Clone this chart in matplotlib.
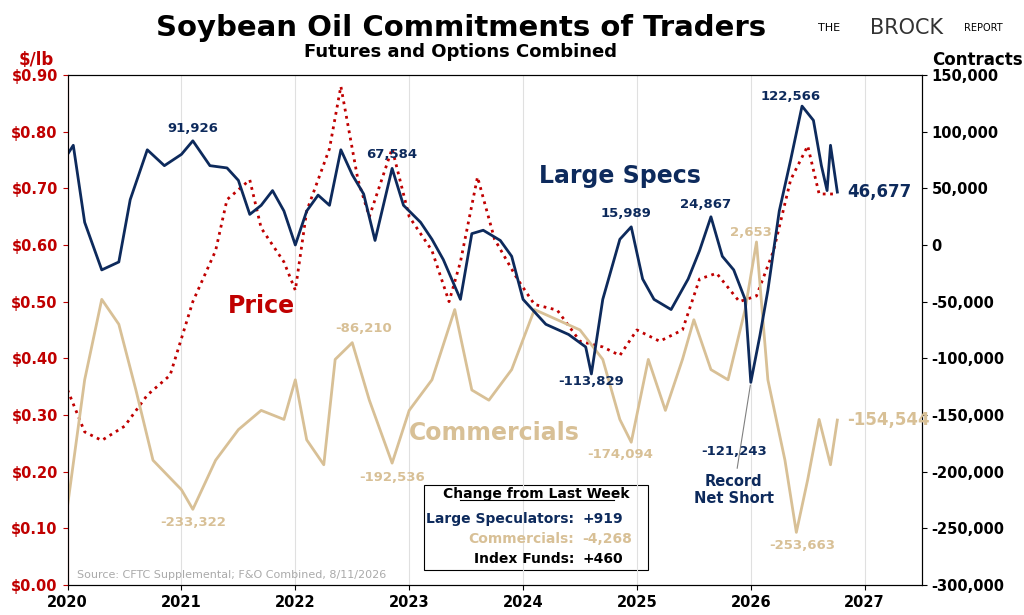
import matplotlib.pyplot as plt
from matplotlib.ticker import FuncFormatter

# weekly data, thinned out
spec_t = [2020.0, 2020.05, 2020.15, 2020.3, 2020.45, 2020.55, 2020.7, 2020.85, 2021.0, 2021.1, 2021.25, 2021.4,
          2021.5, 2021.6, 2021.7, 2021.8, 2021.9, 2022.0, 2022.1, 2022.2, 2022.3, 2022.4, 2022.5, 2022.6,
          2022.7, 2022.85, 2022.95, 2023.1, 2023.2, 2023.3, 2023.45, 2023.55, 2023.65, 2023.8, 2023.9, 2024.0,
          2024.2, 2024.4, 2024.55, 2024.6, 2024.7, 2024.85, 2024.95, 2025.05, 2025.15, 2025.3, 2025.45, 2025.55,
          2025.65, 2025.75, 2025.85, 2025.95, 2026.0, 2026.08, 2026.15, 2026.25, 2026.35, 2026.45, 2026.55,
          2026.62, 2026.67, 2026.7, 2026.76]
spec_v = [80000, 88000, 20000, -22000, -15000, 40000, 84000, 70000, 80000, 91926, 70000, 68000,
          57000, 27000, 35000, 48000, 30000, 0, 30000, 44000, 35000, 84000, 62000, 45000,
          4000, 67584, 35000, 20000, 5000, -13000, -48000, 10000, 13000, 4000, -10000, -48000,
          -70000, -79000, -90000, -113829, -48000, 5000, 15989, -30000, -48000, -57000, -30000, -5000,
          24867, -10000, -22000, -48000, -121243, -80000, -40000, 30000, 75000, 122566, 110000,
          70000, 48000, 88000, 46677]

comm_t = [2020.0, 2020.15, 2020.3, 2020.45, 2020.6, 2020.75, 2021.0, 2021.1, 2021.3, 2021.5, 2021.7, 2021.9,
          2022.0, 2022.1, 2022.25, 2022.35, 2022.5, 2022.65, 2022.85, 2023.0, 2023.2, 2023.4, 2023.55, 2023.7,
          2023.9, 2024.1, 2024.3, 2024.5, 2024.7, 2024.85, 2024.95, 2025.1, 2025.25, 2025.4, 2025.5, 2025.65,
          2025.8, 2025.95, 2026.05, 2026.15, 2026.3, 2026.4, 2026.5, 2026.6, 2026.7, 2026.76]
comm_v = [-230000, -119000, -48000, -70000, -128000, -190000, -216000, -233322, -190000, -163000, -146000, -154000,
          -119000, -172000, -194000, -101000, -86210, -137000, -192536, -146000, -119000, -57000, -128000, -137000,
          -110000, -57000, -66000, -75000, -101000, -154000, -174094, -101000, -146000, -101000, -66000, -110000,
          -119000, -57000, 2653, -119000, -190000, -253663, -207000, -154000, -194000, -154544]

price_t = [2020.0, 2020.15, 2020.3, 2020.5, 2020.7, 2020.9, 2021.1, 2021.3, 2021.4, 2021.6, 2021.7, 2021.9,
           2022.0, 2022.1, 2022.3, 2022.4, 2022.55, 2022.65, 2022.85, 2023.0, 2023.2, 2023.35, 2023.45, 2023.6,
           2023.75, 2023.95, 2024.1, 2024.3, 2024.5, 2024.7, 2024.85, 2025.0, 2025.2, 2025.4, 2025.55, 2025.7,
           2025.9, 2026.05, 2026.2, 2026.35, 2026.5, 2026.6, 2026.76]
price_v = [0.344, 0.27, 0.255, 0.28, 0.335, 0.37, 0.50, 0.59, 0.68, 0.715, 0.63, 0.57,
           0.52, 0.66, 0.77, 0.88, 0.715, 0.65, 0.77, 0.65, 0.59, 0.50, 0.57, 0.72,
           0.61, 0.54, 0.495, 0.485, 0.43, 0.42, 0.405, 0.45, 0.43, 0.45, 0.54, 0.55,
           0.50, 0.51, 0.59, 0.715, 0.775, 0.69, 0.69]

NAVY = "#0d2a5c"
TAN = "#d8c096"
RED = "#c00000"

fig = plt.figure(figsize=(10.24, 6.15), dpi=100)
ax = fig.add_axes([0.066, 0.049, 0.834, 0.829])
ax2 = ax.twinx()

# -----------------------------------------------------------------------------
# 1. Series
# -----------------------------------------------------------------------------
ax.plot(price_t, price_v, color=RED, linestyle=":", linewidth=2)  # price on left axis
ax2.plot(comm_t, comm_v, color=TAN, linewidth=2)
ax2.plot(spec_t, spec_v, color=NAVY, linewidth=2)

# -----------------------------------------------------------------------------
# 2. Axes formatting
# -----------------------------------------------------------------------------
ax.set_xlim(2020, 2027.5)
ax.set_ylim(0, 0.9)
ax.set_yticks([i / 10 for i in range(10)])
ax.yaxis.set_major_formatter(FuncFormatter(lambda v, _: f"${v:.2f}"))
ax.tick_params(axis="y", colors=RED, labelsize=10.5)
for lab in ax.get_yticklabels():
    lab.set_fontweight("bold")
ax.set_xticks(range(2020, 2028))
ax.tick_params(axis="x", labelsize=10.5)
for lab in ax.get_xticklabels():
    lab.set_fontweight("bold")
ax.grid(axis="x", color="#e0e0e0", linewidth=0.8)

ax2.set_ylim(-300000, 150000)
ax2.set_yticks(range(-300000, 150001, 50000))
ax2.yaxis.set_major_formatter(FuncFormatter(lambda v, _: f"{int(v):,}"))
ax2.tick_params(axis="y", labelsize=10.5)
for lab in ax2.get_yticklabels():
    lab.set_fontweight("bold")
ax.spines["left"].set_color(RED)

# -----------------------------------------------------------------------------
# 3. Titles and annotations
# -----------------------------------------------------------------------------
fig.text(0.45, 0.955, "Soybean Oil Commitments of Traders", ha="center", va="center",
         fontsize=21, fontweight="bold")
fig.text(0.45, 0.915, "Futures and Options Combined", ha="center", va="center",
         fontsize=13, fontweight="bold")
fig.text(0.035, 0.895, "$/lb", color=RED, ha="center", fontsize=12, fontweight="bold")
fig.text(0.955, 0.895, "Contracts", ha="center", fontsize=12, fontweight="bold")
fig.text(0.81, 0.955, "THE", fontsize=8, ha="center", va="center")
fig.text(0.885, 0.955, "BROCK", fontsize=15, ha="center", va="center", color="#333333")
fig.text(0.96, 0.955, "REPORT", fontsize=7, ha="center", va="center")

ax.text(2021.7, 0.48, "Price", color=RED, fontsize=17, fontweight="bold", ha="center")
ax2.text(2024.85, 55000, "Large Specs", color=NAVY, fontsize=17, fontweight="bold", ha="center")
ax2.text(2023.75, -172000, "Commercials", color=TAN, fontsize=17, fontweight="bold", ha="center")

navy_labels = [(2021.1, 100000, "91,926"), (2022.85, 77000, "67,584"), (2024.9, 25000, "15,989"),
               (2025.6, 33000, "24,867"), (2026.35, 128000, "122,566"), (2024.6, -124000, "-113,829"),
               (2025.85, -185000, "-121,243")]
for x, y, s in navy_labels:
    ax2.text(x, y, s, color=NAVY, fontsize=9.5, fontweight="bold", ha="center")
tan_labels = [(2021.1, -248000, "-233,322"), (2022.6, -77000, "-86,210"), (2022.85, -208000, "-192,536"),
              (2024.85, -188000, "-174,094"), (2026.0, 8000, "2,653"), (2026.45, -268000, "-253,663")]
for x, y, s in tan_labels:
    ax2.text(x, y, s, color=TAN, fontsize=9.5, fontweight="bold", ha="center")
ax2.text(2026.85, 46677, "46,677", color=NAVY, fontsize=12, fontweight="bold", va="center")
ax2.text(2026.85, -154544, "-154,544", color=TAN, fontsize=12, fontweight="bold", va="center")
ax2.annotate("Record\nNet Short", xy=(2026.0, -121243), xytext=(2025.85, -228000),
             color=NAVY, fontsize=10.5, fontweight="bold", ha="center",
             arrowprops=dict(arrowstyle="-", color="gray", linewidth=0.8))

box = ("Change from Last Week", [("Large Speculators:", "+919", NAVY), ("Commercials:", "-4,268", TAN),
                                 ("Index Funds:", "+460", "black")])
ax.add_patch(plt.Rectangle((2023.13, 0.027), 1.97, 0.15, fill=False, edgecolor="black", linewidth=0.8))
ax.text(2024.12, 0.153, box[0], ha="center", fontsize=10, fontweight="bold", color="black")
ax.plot([2023.45, 2024.8], [0.149, 0.149], color="black", linewidth=0.8)
for i, (name, val, c) in enumerate(box[1]):
    ax.text(2024.45, 0.11 - i * 0.036, name, ha="right", fontsize=10, fontweight="bold", color=c)
    ax.text(2024.52, 0.11 - i * 0.036, val, ha="left", fontsize=10, fontweight="bold", color=c)
ax.text(2020.08, 0.012, "Source: CFTC Supplemental; F&O Combined, 8/11/2026", fontsize=8, color="#aaaaaa")

fig.savefig("out.png", dpi=100)
